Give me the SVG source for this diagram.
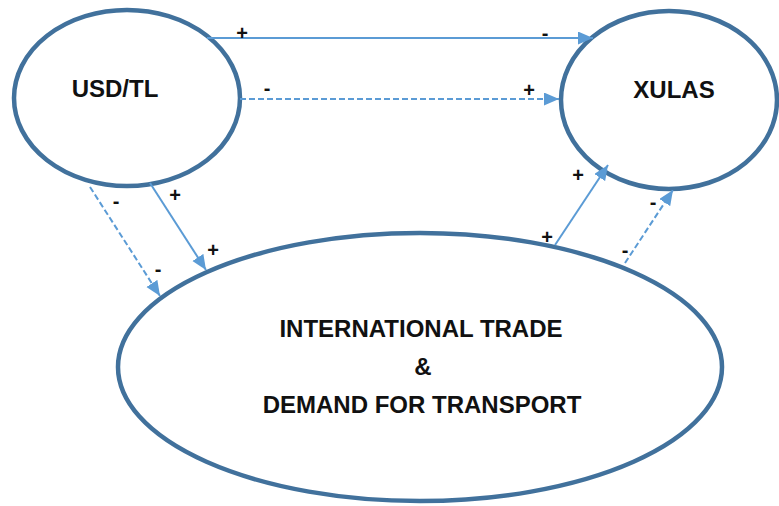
<svg xmlns="http://www.w3.org/2000/svg" width="779" height="506" viewBox="0 0 779 506">
<style>
.node{fill:#fff;stroke:#41719C;stroke-width:4.5}
.t{font-family:"Liberation Sans",Arial,sans-serif;font-weight:bold;font-size:24px;fill:#111;text-anchor:middle}
.lbl{font-family:"Liberation Sans",Arial,sans-serif;font-weight:bold;font-size:20px;fill:#111;text-anchor:middle}
.c{stroke:#5B9BD5;stroke-width:2;fill:none;marker-end:url(#ah)}
.d{stroke-dasharray:6 3}
</style>
<defs>
<marker id="ah" markerUnits="userSpaceOnUse" markerWidth="18" markerHeight="14" refX="15" refY="6.5" orient="auto">
<path d="M0,0 L15,6.5 L0,13 Z" fill="#5B9BD5"/>
</marker>
</defs>
<g id="node-usdtl">
<ellipse class="node" cx="127" cy="98" rx="113" ry="88"/>
<text class="t" x="115" y="97">USD/TL</text>
</g>
<g id="node-xulas">
<ellipse class="node" cx="669" cy="100" rx="108" ry="89"/>
<text class="t" x="674" y="98">XULAS</text>
</g>
<g id="node-trade">
<ellipse class="node" cx="420" cy="367" rx="302" ry="134"/>
<text class="t" x="421" y="337">INTERNATIONAL TRADE</text>
<text class="t" x="423" y="375">&amp;</text>
<text class="t" x="422" y="413">DEMAND FOR TRANSPORT</text>
</g>
<g id="connectors">
<line class="c" x1="207" y1="38" x2="593" y2="38"/>
<line class="c d" x1="240" y1="99" x2="559" y2="99"/>
<line class="c" x1="150" y1="183" x2="206" y2="270"/>
<line class="c d" x1="90" y1="187" x2="160" y2="296"/>
<line class="c" x1="555" y1="245" x2="608" y2="165"/>
<line class="c d" x1="625" y1="263" x2="673" y2="190"/>
</g>
<g id="labels">
<text class="lbl" x="242" y="40">+</text>
<text class="lbl" x="545" y="40">-</text>
<text class="lbl" x="267" y="95">-</text>
<text class="lbl" x="529" y="97">+</text>
<text class="lbl" x="175" y="202">+</text>
<text class="lbl" x="213" y="257">+</text>
<text class="lbl" x="116" y="208">-</text>
<text class="lbl" x="158" y="276">-</text>
<text class="lbl" x="578" y="182">+</text>
<text class="lbl" x="547" y="244">+</text>
<text class="lbl" x="653" y="209">-</text>
<text class="lbl" x="625" y="257">-</text>
</g>
</svg>
